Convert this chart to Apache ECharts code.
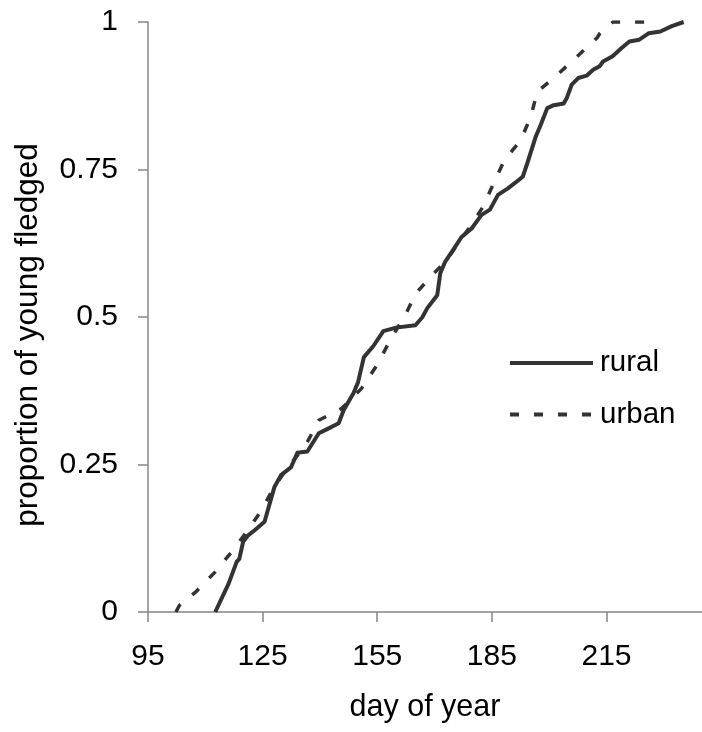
<!DOCTYPE html>
<html>
<head>
<meta charset="utf-8">
<script src="https://cdn.jsdelivr.net/npm/echarts@6/dist/echarts.min.js"></script>
<style>html,body{margin:0;padding:0;background:#fff;}#c{width:702px;height:732px;}</style>
</head>
<body>
<div id="c"></div>
<script>
const xTicks = [95, 125, 155, 185, 215];
const yTicks = [0, 0.25, 0.5, 0.75, 1];
const ruralDays = [112.6,116.1,118.2,118.9,119.9,121.2,123.0,125.5,128.1,129.8,132.4,134.1,136.7,139.7,141.9,144.9,146.2,148.8,150.0,151.5,153.9,156.6,159.9,165.0,166.8,168.1,170.7,171.5,172.8,175.0,177.0,179.7,182.3,184.5,186.6,189.2,192.2,193.1,194.3,196.5,197.8,199.5,201.2,203.8,204.6,205.9,207.6,209.8,211.5,213.2,214.1,216.6,218.8,221.0,223.6,226.1,229.1,232.1,235.2];
const ruralValues = [0,0.048,0.085,0.09,0.119,0.13,0.139,0.153,0.212,0.232,0.245,0.27,0.272,0.303,0.31,0.32,0.342,0.371,0.39,0.432,0.45,0.476,0.482,0.486,0.4995,0.515,0.537,0.574,0.594,0.615,0.635,0.65,0.673,0.682,0.707,0.718,0.733,0.738,0.761,0.806,0.826,0.854,0.859,0.862,0.871,0.894,0.905,0.909,0.919,0.925,0.933,0.942,0.955,0.967,0.97,0.981,0.984,0.993,1.0];
const urbanDays = [102.3,103.2,107.5,112.6,116.9,121.2,124.7,127.5,131.0,136.3,139.7,145.7,150.9,155.2,158.6,162.1,165.1,169.4,173.0,176.5,179.5,182.7,185.7,188.3,192.6,195.2,196.9,201.7,206.9,212.5,213.3,216.7,224.9];
const urbanValues = [0,0.011,0.034,0.068,0.102,0.139,0.1725,0.206,0.24,0.283,0.325,0.345,0.379,0.421,0.464,0.5,0.54,0.571,0.595,0.628,0.655,0.687,0.73,0.766,0.8,0.84,0.882,0.908,0.939,0.973,0.981,1.0,1.0];
const seriesNames = ['rural', 'urban'];

const font = "'Liberation Sans', Arial, sans-serif";
const axisColor = '#868686';
const lineColor = '#333333';

const chart = echarts.init(document.getElementById('c'), null, {renderer: 'canvas'});
chart.setOption({
  animation: false,
  backgroundColor: '#ffffff',
  grid: {left: 148, top: 22, bottom: 120, right: -8.5, containLabel: false},
  xAxis: {
    type: 'value', min: xTicks[0], max: 240, interval: 30,
    name: 'day of year', nameLocation: 'middle', nameGap: 80,
    nameTextStyle: {fontFamily: font, fontSize: 30.5, color: '#000'},
    axisLine: {show: true, lineStyle: {color: axisColor, width: 1.5}},
    axisTick: {show: true, length: 10, inside: false, lineStyle: {color: axisColor, width: 1.5}},
    axisLabel: {fontFamily: font, fontSize: 30, color: '#000', margin: 30, showMaxLabel: false},
    splitLine: {show: false}
  },
  yAxis: {
    type: 'value', min: yTicks[0], max: yTicks[yTicks.length-1], interval: 0.25,
    name: 'proportion of young fledged', nameLocation: 'middle', nameGap: 104,
    nameTextStyle: {fontFamily: font, fontSize: 31.5, color: '#000', padding: [0, 36, 0, 0]},
    axisLine: {show: true, lineStyle: {color: axisColor, width: 1.5}},
    axisTick: {show: true, length: 10, inside: false, lineStyle: {color: axisColor, width: 1.5}},
    axisLabel: {fontFamily: font, fontSize: 30, color: '#000', margin: 30},
    splitLine: {show: false}
  },
  legend: {
    orient: 'vertical', left: 508, top: 348, padding: 0,
    itemWidth: 83, itemHeight: 1, itemGap: 21.5,
    itemStyle: {opacity: 0},
    textStyle: {fontFamily: font, fontSize: 29.5, color: '#000', lineHeight: 30, padding: [0,0,0,2]},
    data: [
      {name: seriesNames[0], lineStyle: {width: 4, type: 'solid', color: lineColor}},
      {name: seriesNames[1], lineStyle: {width: 4, type: [9, 15], color: lineColor}}
    ]
  },
  series: [
    {
      name: seriesNames[0], type: 'line', symbol: 'none', showSymbol: false,
      data: ruralDays.map((d, i) => [d, ruralValues[i]]),
      lineStyle: {color: lineColor, width: 4, type: 'solid', join: 'round'},
      itemStyle: {color: lineColor}
    },
    {
      name: seriesNames[1], type: 'line', symbol: 'none', showSymbol: false,
      data: urbanDays.map((d, i) => [d, urbanValues[i]]),
      lineStyle: {color: lineColor, width: 3.5, type: [9, 15]},
      itemStyle: {color: lineColor}
    }
  ]
});
</script>
</body>
</html>
